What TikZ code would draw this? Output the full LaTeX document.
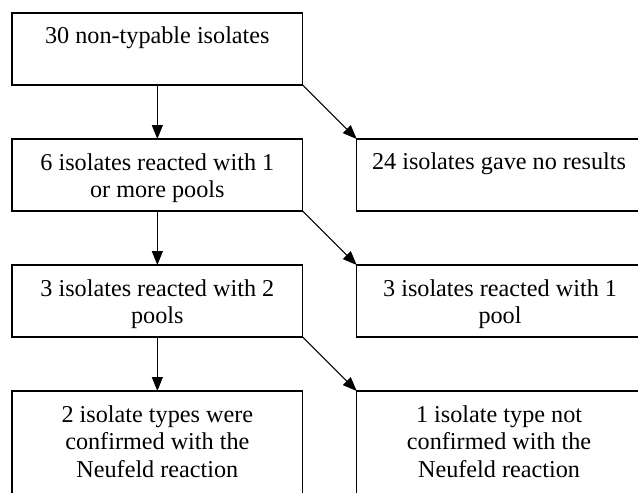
\documentclass[tikz,border=0pt]{standalone}
\usepackage{fontspec}
\setmainfont{Liberation Serif}
\usetikzlibrary{arrows.meta,positioning}
\tikzset{
    every node/.style={font=\fontsize{24.2}{27.5}\selectfont},
}

\begin{document}
\begin{tikzpicture}[x=1pt, y=-1pt, line width=1.3pt,
    box/.style={draw, minimum width=290.7pt, minimum height=72pt, inner sep=0, outer sep=0, anchor=north west},
    tall/.style={box, minimum height=130pt},
    txt/.style={anchor=north, align=center, inner sep=0},
    arr/.style={line width=1.1pt, -{Triangle[width=11pt,length=14pt]}},
    ]
    \clip (0,0) rectangle (638,493);

    % left column
    \node [box] (all) at (12,13) {};
    \node [box, below=54pt of all] (react) {};
    \node [box, below=54pt of react] (two) {};
    \node [tall, below=54pt of two] (conf) {};

    % right column
    \node [box] (none) at (356.7,139) {};
    \node [box, below=54pt of none] (one) {};
    \node [tall, below=54pt of one] (nconf) {};

    \node [txt] (allt) at ([yshift=-13pt]all.north) {30 non-typable isolates};
    \node [txt] (reactt) at ([yshift=-14pt]react.north) {6 isolates reacted with 1\\or more pools};
    \node [txt] (twot) at ([yshift=-14pt]two.north) {3 isolates reacted with 2\\pools};
    \node [txt] (conft) at ([yshift=-14pt]conf.north) {2 isolate types were\\confirmed with the\\Neufeld reaction};
    \node [txt] (nonet) at ([xshift=-3pt,yshift=-13pt]none.north) {24 isolates gave no results};
    \node [txt] (onet) at ([xshift=-2pt,yshift=-14pt]one.north) {3 isolates reacted with 1\\pool};
    \node [txt] (nconft) at ([xshift=-3pt,yshift=-14pt]nconf.north) {1 isolate type not\\confirmed with the\\Neufeld reaction};

    \draw [arr] (all.south) -- (react.north);
    \draw [arr] (react.south) -- (two.north);
    \draw [arr] (two.south) -- (conf.north);
    \draw [arr] (all.south east) -- (none.north west);
    \draw [arr] (react.south east) -- (one.north west);
    \draw [arr] (two.south east) -- (nconf.north west);
\end{tikzpicture}
\end{document}
